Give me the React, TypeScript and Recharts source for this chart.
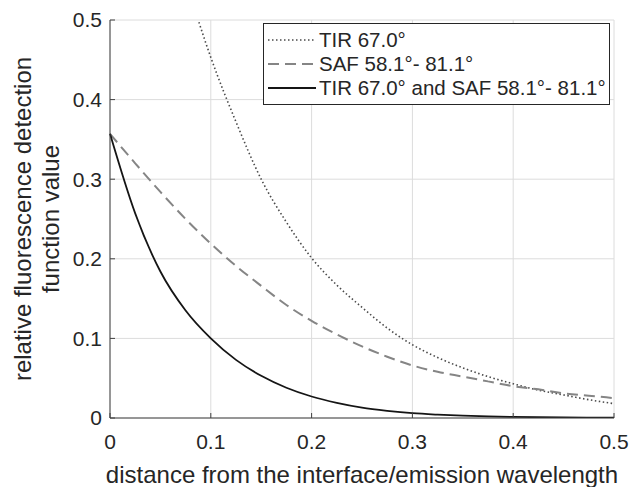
import React from 'react';
import { LineChart, Line, XAxis, YAxis, CartesianGrid, Legend } from 'recharts';

// distance from the interface / emission wavelength
const distance = [0, 0.025, 0.05, 0.075, 0.1, 0.125, 0.15, 0.175, 0.2, 0.225, 0.25, 0.275, 0.3, 0.325, 0.35, 0.375, 0.4, 0.425, 0.45, 0.475, 0.5];
const tirValues = [null, null, null, 0.55, 0.453, 0.372, 0.3, 0.246, 0.201, 0.167, 0.139, 0.113, 0.092, 0.076, 0.063, 0.052, 0.043, 0.035, 0.029, 0.023, 0.018];
const safValues = [0.357, 0.32, 0.284, 0.25, 0.219, 0.191, 0.166, 0.142, 0.122, 0.105, 0.09, 0.077, 0.066, 0.058, 0.052, 0.046, 0.04, 0.036, 0.031, 0.028, 0.025];
const combinedValues = [0.357, 0.257, 0.184, 0.135, 0.1, 0.073, 0.053, 0.038, 0.027, 0.019, 0.013, 0.009, 0.006, 0.0042, 0.0029, 0.002, 0.0014, 0.001, 0.0007, 0.0005, 0.0003];

const xTicks = [0, 0.1, 0.2, 0.3, 0.4, 0.5];
const yTicks = [0, 0.1, 0.2, 0.3, 0.4, 0.5];

const seriesNames = ['TIR 67.0°', 'SAF 58.1°- 81.1°', 'TIR 67.0° and SAF 58.1°- 81.1°'];

const data = distance.map((x, i) => ({
  x,
  tir: tirValues[i],
  saf: safValues[i],
  both: combinedValues[i],
}));

const FONT = '"Liberation Sans", Arial, Helvetica, sans-serif';
const TEXT = '#262626';
const BOX = '#404040';
const TICK_LEN = 5;
const X_MARGIN = 16;
const Y_MARGIN = 8;

const series = [
  { key: 'tir', name: seriesNames[0], color: '#4a4a4a', width: 1.6, dash: '1.5 2.5' },
  { key: 'saf', name: seriesNames[1], color: '#858585', width: 2, dash: '11 6' },
  { key: 'both', name: seriesNames[2], color: '#151515', width: 1.8, dash: undefined as string | undefined },
];

const BottomTick = (props: any) => {
  const { x, y, payload } = props;
  const axisY = y - X_MARGIN;
  return (
    <g>
      <line x1={x} x2={x} y1={axisY} y2={axisY - TICK_LEN} stroke={BOX} />
      <text x={x} y={y} dy="0.71em" textAnchor="middle" fill={TEXT} fontSize={21} fontFamily={FONT}>
        {String(payload.value)}
      </text>
    </g>
  );
};

const LeftTick = (props: any) => {
  const { x, y, payload } = props;
  const axisX = x + Y_MARGIN;
  return (
    <g>
      <line x1={axisX} x2={axisX + TICK_LEN} y1={y} y2={y} stroke={BOX} />
      <text x={x} y={y} dy="0.355em" textAnchor="end" fill={TEXT} fontSize={21} fontFamily={FONT}>
        {String(payload.value)}
      </text>
    </g>
  );
};

const TopTick = (props: any) => {
  const { x, y } = props;
  return <line x1={x} x2={x} y1={y} y2={y + TICK_LEN} stroke={BOX} />;
};

const RightTick = (props: any) => {
  const { x, y } = props;
  return <line x1={x} x2={x - TICK_LEN} y1={y} y2={y} stroke={BOX} />;
};

const XTitle = (props: any) => {
  const { viewBox } = props;
  const cx = viewBox.x + viewBox.width / 2;
  return (
    <text x={cx} y={viewBox.y + 65} textAnchor="middle" fill={TEXT} fontSize={24} fontFamily={FONT}>
      distance from the interface/emission wavelength
    </text>
  );
};

const YTitle = (props: any) => {
  const { viewBox } = props;
  const cy = viewBox.y + viewBox.height / 2;
  const x1 = viewBox.x + 23;
  const x2 = viewBox.x + 51;
  return (
    <g fill={TEXT} fontSize={24} fontFamily={FONT}>
      <text x={x1} y={cy} dy="0.35em" textAnchor="middle" transform={`rotate(-90 ${x1} ${cy})`}>
        relative fluorescence detection
      </text>
      <text x={x2} y={cy} dy="0.35em" textAnchor="middle" transform={`rotate(-90 ${x2} ${cy})`}>
        function value
      </text>
    </g>
  );
};

const LegendBox = () => (
  <div
    style={{
      border: `1px solid ${TEXT}`,
      background: '#fff',
      padding: '4px 4px 4px 3px',
      fontFamily: FONT,
      fontSize: 20.5,
      color: TEXT,
      boxSizing: 'border-box',
      width: 347,
    }}
  >
    {series.map((s) => (
      <div key={s.key} style={{ display: 'flex', alignItems: 'center', height: 24, whiteSpace: 'nowrap' }}>
        <svg width={50} height={24} style={{ flex: 'none' }}>
          <line x1={1} x2={49} y1={12} y2={12} stroke={s.color} strokeWidth={s.width} strokeDasharray={s.dash} />
        </svg>
        <span style={{ marginLeft: 2, lineHeight: '24px' }}>{s.name}</span>
      </div>
    ))}
  </div>
);

const App: React.FC = () => {
  return (
    <div style={{ position: 'absolute', left: 0, top: 0, width: 633, height: 487, background: '#fff' }}>
      <LineChart width={633} height={487} data={data} margin={{ top: 20, right: 19, bottom: 0, left: 0 }}>
        <CartesianGrid stroke="#dcdcdc" strokeWidth={1} />
        <XAxis
          dataKey="x"
          type="number"
          domain={[0, 0.5]}
          ticks={xTicks}
          height={69}
          tickSize={0}
          tickMargin={X_MARGIN}
          tickLine={false}
          axisLine={{ stroke: BOX }}
          tick={<BottomTick />}
          label={<XTitle />}
          interval={0}
        />
        <XAxis
          xAxisId="top"
          orientation="top"
          type="number"
          dataKey="x"
          domain={[0, 0.5]}
          ticks={xTicks}
          height={0}
          tickSize={0}
          tickMargin={0}
          tickLine={false}
          axisLine={{ stroke: BOX }}
          tick={<TopTick />}
          interval={0}
        />
        <YAxis
          type="number"
          domain={[0, 0.5]}
          ticks={yTicks}
          allowDataOverflow
          width={110}
          tickSize={0}
          tickMargin={Y_MARGIN}
          tickLine={false}
          axisLine={{ stroke: BOX }}
          tick={<LeftTick />}
          label={<YTitle />}
          interval={0}
        />
        <YAxis
          yAxisId="right"
          orientation="right"
          type="number"
          domain={[0, 0.5]}
          ticks={yTicks}
          width={0}
          tickSize={0}
          tickMargin={0}
          tickLine={false}
          axisLine={{ stroke: BOX }}
          tick={<RightTick />}
          interval={0}
        />
        {series.map((s) => (
          <Line
            key={s.key}
            dataKey={s.key}
            name={s.name}
            type="monotone"
            stroke={s.color}
            strokeWidth={s.width}
            strokeDasharray={s.dash}
            dot={false}
            activeDot={false}
            isAnimationActive={false}
          />
        ))}
        <Legend
          layout="vertical"
          align="center"
          verticalAlign="middle"
          content={() => <LegendBox />}
          wrapperStyle={{ left: 263, top: 23, width: 347, height: 'auto' }}
        />
      </LineChart>
    </div>
  );
};

export default App;
